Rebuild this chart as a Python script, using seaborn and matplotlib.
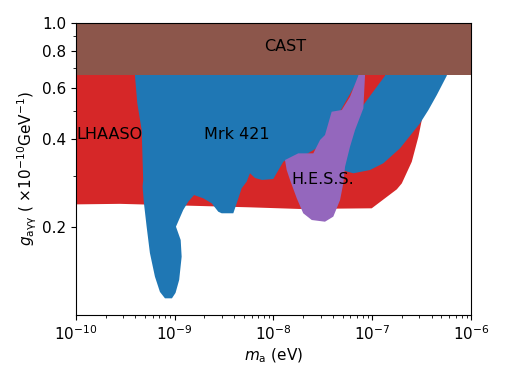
import numpy as np
import matplotlib
matplotlib.use("Agg")
import matplotlib.pyplot as plt
import seaborn as sns
from matplotlib.ticker import FixedLocator, FixedFormatter, NullFormatter

# Exclusion region outlines: axion mass (eV) and coupling (1e-10 GeV^-1)
lhaaso_m = [1e-10, 2.79e-10, 5.78e-9, 1.85e-8, 9.87e-8, 1.77e-7, 1.99e-7,
            2.51e-7, 2.93e-7, 3.17e-7, 1.70e-7, 1.70e-7, 1e-10]
lhaaso_g = [0.239, 0.240, 0.2335, 0.2305, 0.2317, 0.269, 0.282,
            0.3344, 0.4074, 0.4646, 0.66, 0.75, 0.75]

mrk_left_m = [3.87e-10, 3.96e-10, 4.18e-10, 4.63e-10, 4.80e-10, 4.73e-10, 4.88e-10,
              5.20e-10, 5.61e-10, 6.31e-10, 7.09e-10, 7.97e-10, 9.38e-10, 1.02e-9,
              1.11e-9, 1.176e-9, 1.15e-9, 1.03e-9, 1.22e-9, 1.37e-9, 1.57e-9,
              1.945e-9, 2.37e-9, 2.76e-9, 2.99e-9, 3.92e-9, 4.24e-9, 4.76e-9,
              5.35e-9, 5.78e-9, 6.50e-9, 7.65e-9, 9.95e-9, 1.257e-8, 1.34e-8,
              1.855e-8, 3.10e-8, 4.50e-8, 6.69e-8, 7.69e-8, 7.69e-8]
mrk_left_g = [0.75, 0.659, 0.531, 0.4295, 0.2897, 0.2748, 0.2416,
              0.2005, 0.163, 0.1352, 0.1199, 0.114, 0.114, 0.119,
              0.1318, 0.1583, 0.1805, 0.2005, 0.2287, 0.244, 0.2573,
              0.2507, 0.241, 0.2256, 0.2228, 0.2228, 0.241, 0.2713,
              0.2858, 0.3054, 0.2942, 0.2897, 0.2919, 0.3344, 0.339,
              0.3444, 0.3816, 0.4833, 0.612, 0.659, 0.75]

mrk_right_m = [1.346e-7, 1.346e-7, 8.12e-8, 5.95e-8, 4.72e-8, 5.30e-8, 6.43e-8,
               9.49e-8, 1.294e-7, 1.91e-7, 3.04e-7, 3.70e-7, 4.50e-7, 5.68e-7, 5.85e-7]
mrk_right_g = [0.75, 0.659, 0.523, 0.397, 0.318, 0.311, 0.3053,
               0.3134, 0.3304, 0.3718, 0.4527, 0.5028, 0.566, 0.659, 0.75]

hess_m = [7.22e-8, 8.44e-8, 8.44e-8, 8.12e-8, 6.69e-8, 5.95e-8, 5.30e-8, 5.09e-8,
          4.72e-8, 4.03e-8, 3.32e-8, 2.44e-8, 2.00e-8, 1.72e-8, 1.47e-8, 1.36e-8,
          1.307e-8, 1.78e-8, 2.53e-8, 2.96e-8, 3.32e-8, 3.88e-8, 4.91e-8, 5.95e-8,
          7.22e-8]
hess_g = [0.75, 0.75, 0.659, 0.5095, 0.4295, 0.3765, 0.3216, 0.2822,
          0.2474, 0.217, 0.2085, 0.2113, 0.2228, 0.2507, 0.2897, 0.3134,
          0.339, 0.3573, 0.3573, 0.397, 0.4128, 0.496, 0.5028, 0.558,
          0.659]

cast_m = [1e-10, 1e-6]
cast_g_low = 0.66
cast_g_high = 1.0

labels = ["LHAASO", "Mrk 421", "H.E.S.S.", "CAST"]
label_m = [1e-10, 2e-9, 1.5e-8, 8e-9]
label_g = [0.4, 0.4, 0.28, 0.8]

yticks = [0.2, 0.4, 0.6, 0.8, 1.0]
yminor = [0.3, 0.5, 0.7, 0.9]

sns.set_style("ticks", {"axes.edgecolor": "black", "xtick.color": "black",
                        "ytick.color": "black", "text.color": "black",
                        "axes.labelcolor": "black"})
plt.rcParams["font.family"] = ["DejaVu Sans"]
plt.rcParams["mathtext.fontset"] = "dejavusans"

pal = sns.color_palette("tab10")
red, blue, purple, brown = pal[3], pal[0], pal[4], pal[5]

fig = plt.figure(figsize=(5.06, 3.79), dpi=100)
ax = fig.add_axes([0.150, 0.169, 0.781, 0.771])

ax.fill(lhaaso_m, lhaaso_g, color=red, lw=0)
ax.fill(mrk_left_m, mrk_left_g, color=blue, lw=0)
ax.fill(mrk_right_m, mrk_right_g, color=blue, lw=0)
ax.fill(hess_m, hess_g, color=purple, lw=0)
ax.fill_between(cast_m, cast_g_low, cast_g_high, color=brown, lw=0)

for txt, m, g in zip(labels, label_m, label_g):
    ax.text(m, g, txt, fontsize=11.5)

ax.set_xscale("log")
ax.set_yscale("log")
ax.set_xlim(1e-10, 1e-6)
ax.set_ylim(0.1, 1.0)
ax.xaxis.set_minor_formatter(NullFormatter())
ax.yaxis.set_major_locator(FixedLocator(yticks))
ax.yaxis.set_major_formatter(FixedFormatter([f"{v:.1f}" for v in yticks]))
ax.yaxis.set_minor_locator(FixedLocator(yminor))
ax.yaxis.set_minor_formatter(NullFormatter())
ax.tick_params(labelsize=11)

ax.set_xlabel(r"$m_{\rm a}$ (eV)", fontsize=11, labelpad=2)
ax.set_ylabel(r"$g_{\rm a\gamma\gamma}$ ( $\times10^{-10}$GeV$^{-1}$)", fontsize=11)
ax.yaxis.set_label_coords(-0.094, 0.5)

fig.savefig("out.png", dpi=100)
